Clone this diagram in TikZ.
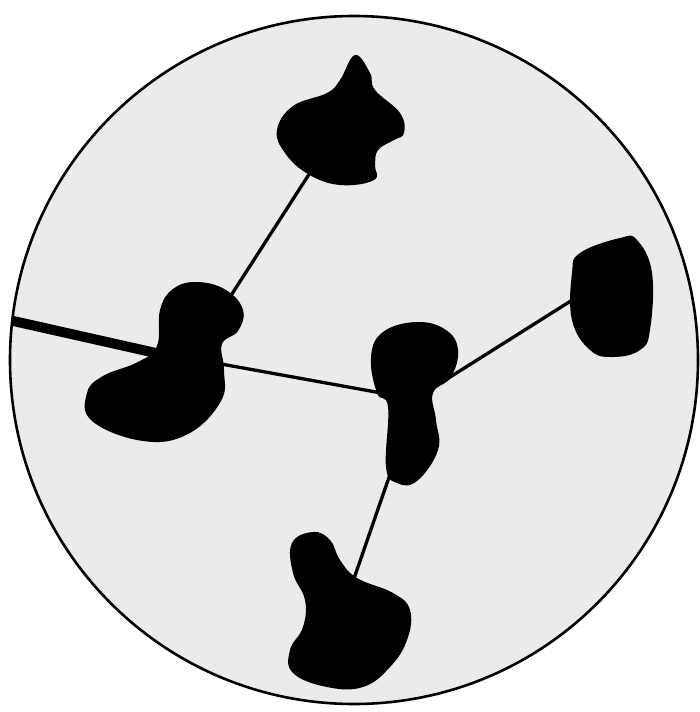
\documentclass[tikz,border=0pt]{standalone}
\usepackage{tikz}
\usetikzlibrary{positioning}
\tikzset{
  field/.style={fill=black!8},
  rim/.style={draw=black, line width=2.6pt},
  blob/.style={fill=black},
  link/.style={line width=3.3pt, black},
  stem/.style={line width=10pt, black}
}

\begin{document}
\begin{tikzpicture}[x=1pt, y=-1pt]
    \useasboundingbox (0,0) rectangle (700,712);
    \fill[field] (354,360) circle (344);

    % attachment points inside the blobs
    \coordinate (top-a) at (315,165);
    \coordinate (left-a) at (230,297);
    \coordinate (left-b) at (210,362);
    \coordinate (mid-a) at (398,396);
    \coordinate (mid-b) at (420,396);
    \coordinate (mid-c) at (395,460);
    \coordinate (right-a) at (585,292);
    \coordinate (bot-a) at (350,590);
    \coordinate (edge) at (0,318);
    \coordinate (left-c) at (178,358);

    \begin{scope}
        \clip (354,360) circle (344);
        \draw[stem] (edge) -- (left-c);
        \draw[link] (top-a) -- (left-a);
        \draw[link] (left-b) -- (mid-a);
        \draw[link] (mid-b) -- (right-a);
        \draw[link] (mid-c) -- (bot-a);

        \fill[blob] plot[smooth cycle, tension=0.7] coordinates {(355,55) (370,73) (375,90) (400,113) (404,133) (394,140) (378,150) (375,165) (374,180) (340,185) (308,174) (285,153) (277,130) (293,106) (327,93) (340,80)};
        \fill[blob] plot[smooth cycle, tension=0.7] coordinates {(173,289) (197,282) (226,290) (243,310) (238,331) (222,344) (224,370) (221,401) (188,434) (143,441) (92,421) (87,393) (103,376) (138,362) (157,346) (160,310)};
        \fill[blob] plot[smooth cycle, tension=0.7] coordinates {(383,332) (417,322) (446,330) (458,350) (451,377) (433,393) (436,420) (438,450) (417,481) (397,483) (386,467) (388,407) (377,393) (371,357)};
        \fill[blob] plot[smooth cycle, tension=0.7] coordinates {(580,253) (620,238) (637,240) (652,273) (650,330) (640,350) (613,357) (590,350) (572,320) (572,273)};
        \fill[blob] plot[smooth cycle, tension=0.7] coordinates {(313,532) (330,540) (340,560) (357,578) (393,593) (410,610) (407,640) (390,667) (363,687) (327,687) (293,673) (290,650) (303,627) (305,600) (293,573) (292,543)};
    \end{scope}

    \draw[rim] (354,360) circle (344);
\end{tikzpicture}
\end{document}
